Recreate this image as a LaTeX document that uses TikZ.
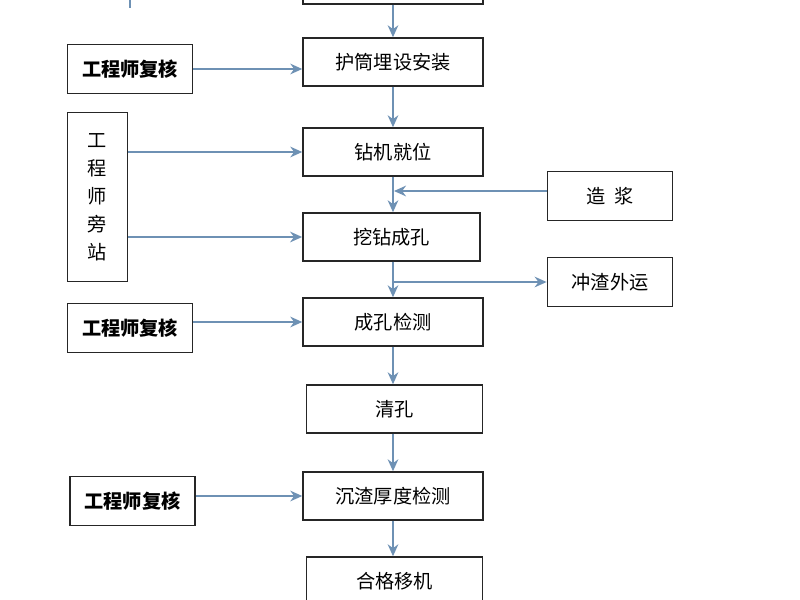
\documentclass[tikz,border=0pt]{standalone}
\usepackage{fontspec}
\setmainfont{Noto Sans CJK SC}
\usetikzlibrary{arrows.meta}
\definecolor{arrowblue}{RGB}{110,145,180}
\tikzset{every picture/.style={line width=0.75pt}}
\tikzset{
  procbox/.style={draw=black!85,line width=1.1pt,minimum width=135pt,minimum height=36pt,inner sep=0pt,font=\Large},
  sidebox/.style={draw=black!85,line width=1.1pt,minimum width=94pt,minimum height=37pt,inner sep=0pt,font=\Large},
  checkbox/.style={sidebox,font=\Large\bfseries},
  flow/.style={draw=arrowblue,line width=1.3pt,-{Stealth[length=9pt,width=8pt]}},
}
\begin{document}
\begin{tikzpicture}[x=0.75pt,y=0.75pt,yscale=-1,xscale=1]
    \useasboundingbox (0,0) rectangle (800,600);

    % main column
    \node[procbox] (prev) at (393,-20) {};
    \node[procbox] (hutong) at (393,62) {护筒埋设安装};
    \node[procbox] (jiuwei) at (393,152) {钻机就位};
    \node[procbox,minimum width=133pt] (waozuan) at (391.5,237) {挖钻成孔};
    \node[procbox] (jiance) at (393,322) {成孔检测};
    \node[procbox,minimum width=132pt] (qingkong) at (394.5,409) {清孔};
    \node[procbox] (chenzha) at (393,496) {沉渣厚度检测};
    \node[procbox,minimum width=132pt] (yiji) at (394.5,581) {合格移机};

    % left column
    \coordinate (topline) at (130,0);
    \node[checkbox] (fuhe1) at (130,69) {工程师复核};
    \node[draw=black!85,line width=1.1pt,minimum width=45pt,minimum height=127pt,inner sep=0pt,align=center,font=\Large] (pangzhan) at (97.5,197) {工\\[3pt]程\\[3pt]师\\[3pt]旁\\[3pt]站};
    \node[checkbox] (fuhe2) at (130,328) {工程师复核};
    \node[checkbox] (fuhe3) at (132.5,501) {工程师复核};

    % right column
    \node[sidebox] (zaojiang) at (610,196) {造\ \ 浆};
    \node[sidebox] (chongzha) at (610,282) {冲渣外运};
    \coordinate (slurryin) at (394,191);
    \coordinate (slagout) at (394,282);

    % connectors
    \draw[draw=arrowblue,line width=1.3pt] (topline) -- ++(0,8);
    \draw[flow] (prev) -- (hutong);
    \draw[flow] (hutong) -- (jiuwei);
    \draw[flow] (jiuwei) -- (waozuan.north -| jiuwei);
    \draw[flow] (waozuan.south -| jiuwei) -- (jiance);
    \draw[flow] (jiance) -- (jiance |- qingkong.north);
    \draw[flow] (qingkong.south -| jiance) -- (chenzha);
    \draw[flow] (chenzha) -- (chenzha |- yiji.north);
    \draw[flow] (zaojiang.west |- slurryin) -- (slurryin);
    \draw[flow] (slagout) -- (chongzha.west);
    \draw[flow] (fuhe1) -- (hutong.west |- fuhe1);
    \draw[flow] (pangzhan.east |- jiuwei) -- (jiuwei.west);
    \draw[flow] (pangzhan.east |- waozuan) -- (waozuan.west);
    \draw[flow] (fuhe2.east |- jiance) -- (jiance.west);
    \draw[flow] (fuhe3.east |- chenzha) -- (chenzha.west);
\end{tikzpicture}
\end{document}
